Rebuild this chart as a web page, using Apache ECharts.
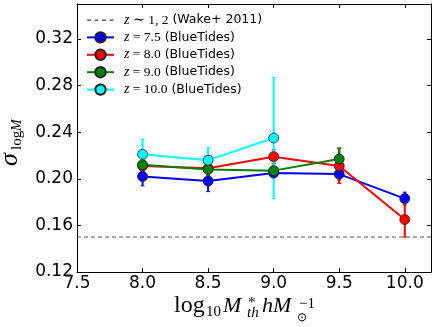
<!DOCTYPE html>
<html>
<head>
<meta charset="utf-8">
<script src="https://cdn.jsdelivr.net/npm/echarts@6/dist/echarts.min.js"></script>
<style>html,body{margin:0;padding:0;background:#fff}#c{width:436px;height:327px}</style>
</head>
<body>
<div id="c"></div>
<script>
// ---- data ----
var xValues = [8.0, 8.5, 9.0, 9.5, 10.0];
var z75 = [0.202, 0.198, 0.205, 0.204, 0.183];
var err75 = [0.008, 0.009, 0.004, 0.005, 0.0055];
var z80 = [0.211, 0.209, 0.219, 0.211, 0.165];
var err80 = [0.005, 0.005, 0.006, 0.015, 0.015];
var z90 = [0.212, 0.208, 0.207, 0.217];
var err90 = [0.006, 0.005, 0.006, 0.0095];
var z100 = [0.221, 0.216, 0.235];
var err100 = [0.013, 0.011, 0.052];
var wakeLevel = 0.15;
var xTickLabels = ['7.5', '8.0', '8.5', '9.0', '9.5', '10.0'];
var yTickLabels = ['0.12', '0.16', '0.20', '0.24', '0.28', '0.32'];
var names = ['z~1,2 (Wake+ 2011)', 'z=7.5 (BlueTides)', 'z=8.0 (BlueTides)', 'z=9.0 (BlueTides)', 'z=10.0 (BlueTides)'];
var legendMath = ['{i|z}{r| ∼ 1, 2}', '{i|z}{r| = 7.5}', '{i|z}{r| = 8.0}', '{i|z}{r| = 9.0}', '{i|z}{r| = 10.0}'];
var legendTail = [' (Wake+ 2011)', ' (BlueTides)', ' (BlueTides)', ' (BlueTides)', ' (BlueTides)'];

var chart = echarts.init(document.getElementById('c'), null, {renderer: 'canvas'});

function pairs(vals) {
  return vals.map(function (v, i) { return [xValues[i], v]; });
}
function errData(vals, errs) {
  return vals.map(function (v, i) { return [xValues[i], v - errs[i], v + errs[i]]; });
}
function errSeries(vals, errs, color) {
  return {
    type: 'custom',
    z: 2,
    silent: true,
    data: errData(vals, errs),
    encode: {x: 0, y: [1, 2]},
    renderItem: function (params, api) {
      var lo = api.coord([api.value(0), api.value(1)]);
      var hi = api.coord([api.value(0), api.value(2)]);
      var cap = 2;
      return {
        type: 'group',
        children: [
          {type: 'line', shape: {x1: lo[0], y1: lo[1], x2: hi[0], y2: hi[1]}, style: {stroke: color, lineWidth: 2}},
          {type: 'line', shape: {x1: lo[0] - cap, y1: lo[1], x2: lo[0] + cap, y2: lo[1]}, style: {stroke: color, lineWidth: 1}},
          {type: 'line', shape: {x1: hi[0] - cap, y1: hi[1], x2: hi[0] + cap, y2: hi[1]}, style: {stroke: color, lineWidth: 1}}
        ]
      };
    }
  };
}
function lineSeries(name, vals, color) {
  return {
    name: name,
    type: 'line',
    z: 3,
    data: pairs(vals),
    symbol: 'circle',
    symbolSize: 10,
    showAllSymbol: true,
    lineStyle: {color: color, width: 2},
    itemStyle: {color: color, borderColor: '#222', borderWidth: 0.8},
    emphasis: {disabled: true},
    animation: false
  };
}

var fmtMap = {};
names.forEach(function (n, i) { fmtMap[n] = legendMath[i] + '{t|' + legendTail[i] + '}'; });

var mathFont = 'Liberation Serif';
// y given as text baseline; converted to middle alignment
function txt(x, baseline, s, size, italic) {
  return {type: 'text', x: x, y: baseline - 0.3 * size, silent: true,
    style: {text: s, fontFamily: mathFont, fontSize: size, fontStyle: italic ? 'italic' : 'normal', fill: '#000', align: 'left', verticalAlign: 'middle'}};
}
function txtMid(x, mid, s, size, italic) {
  return {type: 'text', x: x, y: mid, silent: true,
    style: {text: s, fontFamily: mathFont, fontSize: size, fontStyle: italic ? 'italic' : 'normal', fill: '#000', align: 'left', verticalAlign: 'middle'}};
}

var dashIcon = 'path://M0,0h0.01v0.01h-0.01z M27,13h0.01v0.01h-0.01z M0,6h4v1.2h-4z M7.5,6h4v1.2h-4z M15,6h4v1.2h-4z M22.5,6h4v1.2h-4z';

var option = {
  animation: false,
  backgroundColor: '#fff',
  grid: {left: 77, right: 5, top: 4, bottom: 55, containLabel: false},
  xAxis: [{
    type: 'value', min: 7.5, max: 10.2, interval: 0.5,
    axisLine: {show: true, lineStyle: {color: '#000', width: 1}},
    axisTick: {show: true, inside: true, length: 4, lineStyle: {color: '#000'}},
    splitLine: {show: false},
    axisLabel: {
      show: true, margin: 3, color: '#000', fontFamily: 'DejaVu Sans', fontSize: 17, showMaxLabel: false,
      formatter: function (v) { var k = Math.round((v - 7.5) / 0.5); return Math.abs(v - (7.5 + 0.5 * k)) < 1e-6 ? xTickLabels[k] : ''; }
    }
  }, {
    type: 'value', position: 'top', min: 7.5, max: 10.2, interval: 0.5,
    axisLine: {show: true, onZero: false, lineStyle: {color: '#000', width: 1}},
    axisTick: {show: true, inside: true, length: 4, lineStyle: {color: '#000'}},
    axisLabel: {show: false}, splitLine: {show: false}
  }],
  yAxis: [{
    type: 'value', min: 0.12, max: 0.35, interval: 0.04,
    axisLine: {show: true, lineStyle: {color: '#000', width: 1}},
    axisTick: {show: true, inside: true, length: 4, lineStyle: {color: '#000'}},
    splitLine: {show: false},
    axisLabel: {
      show: true, margin: 4, color: '#000', fontFamily: 'DejaVu Sans', fontSize: 17, showMaxLabel: false,
      formatter: function (v) { var k = Math.round((v - 0.12) / 0.04); return Math.abs(v - (0.12 + 0.04 * k)) < 1e-6 ? yTickLabels[k] : ''; }
    }
  }, {
    type: 'value', position: 'right', min: 0.12, max: 0.35, interval: 0.04,
    axisLine: {show: true, onZero: false, lineStyle: {color: '#000', width: 1}},
    axisTick: {show: true, inside: true, length: 4, lineStyle: {color: '#000'}},
    axisLabel: {show: false}, splitLine: {show: false}
  }],
  legend: {
    data: [{name: names[0], icon: dashIcon, itemStyle: {color: '#444'}}, names[1], names[2], names[3], names[4]],
    orient: 'vertical',
    left: 86, top: 13,
    itemWidth: 27, itemHeight: 13, itemGap: 3.4,
    padding: 0,
    selectedMode: false,
    formatter: function (n) { return fmtMap[n]; },
    textStyle: {
      color: '#000', fontSize: 12.5, padding: [0, 0, 0, 5],
      rich: {
        i: {fontFamily: mathFont, fontStyle: 'italic', fontSize: 14, color: '#000'},
        r: {fontFamily: mathFont, fontSize: 13.5, color: '#000'},
        t: {fontFamily: 'DejaVu Sans', fontSize: 12.5, color: '#000'}
      }
    }
  },
  series: [
    {
      name: names[0], type: 'line', z: 1,
      data: [[7.5, wakeLevel], [10.2, wakeLevel]],
      symbol: 'none',
      lineStyle: {color: '#555', width: 1, type: [4, 3]},
      itemStyle: {color: '#555'},
      emphasis: {disabled: true}
    },
    errSeries(z75, err75, '#0000ff'),
    lineSeries(names[1], z75, '#0000ff'),
    errSeries(z80, err80, '#ff0000'),
    lineSeries(names[2], z80, '#ff0000'),
    errSeries(z90, err90, '#007f00'),
    lineSeries(names[3], z90, '#007f00'),
    errSeries(z100, err100, '#00ffff'),
    lineSeries(names[4], z100, '#00ffff')
  ],
  graphic: [
    // x-axis title: log10 M*_th h M_sun^-1
    txt(174, 313, 'log', 24, false),
    txt(206, 317, '10', 15, false),
    txt(223, 313, 'M', 22, true),
    txtMid(248, 303, '*', 15, false),
    txt(247, 318, 'th', 15, true),
    txt(262, 313, 'h', 22, true),
    txt(273, 313, 'M', 22, true),
    txtMid(297, 318, '⊙', 12, false),
    txtMid(299, 304, '−1', 15, false),
    // y-axis title: sigma_{log M}, rotated
    {
      type: 'group', x: 18, y: 166, rotation: Math.PI / 2, silent: true,
      children: [
        txt(0, 0, 'σ', 26, true),
        txt(16, 4, 'log', 15, false),
        txt(35, 4, 'M', 14, true)
      ]
    }
  ]
};
chart.setOption(option);
</script>
</body>
</html>
